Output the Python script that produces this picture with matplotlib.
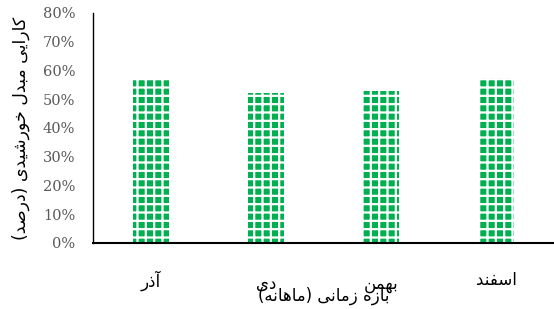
import matplotlib
matplotlib.use("Agg")
import matplotlib.pyplot as plt
from matplotlib.ticker import PercentFormatter
from matplotlib.transforms import ScaledTranslation

# data
months = ["آذر", "دی", "بهمن", "اسفند"]
efficiency = [57.0, 52.2, 52.9, 57.4]
y_ticks = [0, 10, 20, 30, 40, 50, 60, 70, 80]
x_title = "بازه زمانی (ماهانه)"
y_title = "کارایی مبدل خورشیدی (درصد)"

# presentation forms: isolated, final, initial, medial
FORMS = {
    "ا": ("\uFE8D", "\uFE8E", None, None),
    "آ": ("\uFE81", "\uFE82", None, None),
    "د": ("\uFEA9", "\uFEAA", None, None),
    "ذ": ("\uFEAB", "\uFEAC", None, None),
    "ر": ("\uFEAD", "\uFEAE", None, None),
    "ز": ("\uFEAF", "\uFEB0", None, None),
    "و": ("\uFEED", "\uFEEE", None, None),
    "ب": ("\uFE8F", "\uFE90", "\uFE91", "\uFE92"),
    "خ": ("\uFEA5", "\uFEA6", "\uFEA7", "\uFEA8"),
    "س": ("\uFEB1", "\uFEB2", "\uFEB3", "\uFEB4"),
    "ش": ("\uFEB5", "\uFEB6", "\uFEB7", "\uFEB8"),
    "ص": ("\uFEB9", "\uFEBA", "\uFEBB", "\uFEBC"),
    "ف": ("\uFED1", "\uFED2", "\uFED3", "\uFED4"),
    "ل": ("\uFEDD", "\uFEDE", "\uFEDF", "\uFEE0"),
    "م": ("\uFEE1", "\uFEE2", "\uFEE3", "\uFEE4"),
    "ن": ("\uFEE5", "\uFEE6", "\uFEE7", "\uFEE8"),
    "ه": ("\uFEE9", "\uFEEA", "\uFEEB", "\uFEEC"),
    "ی": ("\uFBFC", "\uFBFD", "\uFBFE", "\uFBFF"),
    "ک": ("\uFB8E", "\uFB8F", "\uFB90", "\uFB91"),
}
MIRROR = {"(": ")", ")": "("}


def fa(text):
    # join letters by hand and flip to visual order
    out = []
    for i, ch in enumerate(text):
        if ch not in FORMS:
            out.append(MIRROR.get(ch, ch))
            continue
        prev = text[i - 1] if i > 0 else ""
        nxt = text[i + 1] if i + 1 < len(text) else ""
        joins_prev = prev in FORMS and FORMS[prev][2] is not None
        joins_next = FORMS[ch][2] is not None and nxt in FORMS
        f = FORMS[ch]
        if joins_prev and joins_next:
            out.append(f[3])
        elif joins_prev:
            out.append(f[1])
        elif joins_next:
            out.append(f[2])
        else:
            out.append(f[0])
    return "".join(reversed(out))


plt.rcParams["hatch.linewidth"] = 1.6

fig = plt.figure(figsize=(5.54, 3.09), dpi=100)
ax = fig.add_axes([0.168, 0.2136, 0.832, 0.7444])

x = range(len(months))
ax.bar(x, efficiency, width=0.31, color="#00B050", edgecolor="white",
       linewidth=0, hatch="++")

ax.set_xlim(-0.5, 3.5)
ax.set_ylim(0, 80)
ax.set_yticks(y_ticks)
ax.yaxis.set_major_formatter(PercentFormatter(decimals=0))
ax.set_xticks(list(x))
ax.set_xticklabels([fa(m) for m in months], family="DejaVu Sans", fontsize=12)

for s in ["top", "right"]:
    ax.spines[s].set_visible(False)
ax.spines["left"].set_linewidth(1.0)
ax.spines["bottom"].set_linewidth(1.5)
ax.tick_params(axis="y", length=0, pad=13, labelcolor="#595959", labelsize=10.5)
ax.tick_params(axis="x", length=0, pad=20)
for t in ax.get_yticklabels():
    t.set_family("DejaVu Serif")

# the middle two month names sit a little lower in the reference
for i in (1, 2):
    lab = ax.get_xticklabels()[i]
    lab.set_transform(lab.get_transform() + ScaledTranslation(0, -4 / 100, fig.dpi_scale_trans))

ax.set_xlabel(fa(x_title), family="DejaVu Sans", fontsize=12, va="top")
ax.xaxis.set_label_coords(0.5, -0.19)
ax.set_ylabel(fa(y_title), family="DejaVu Sans", fontsize=12.5)
ax.yaxis.set_label_coords(-0.137, 0.5)

fig.savefig("out.png", dpi=100)
